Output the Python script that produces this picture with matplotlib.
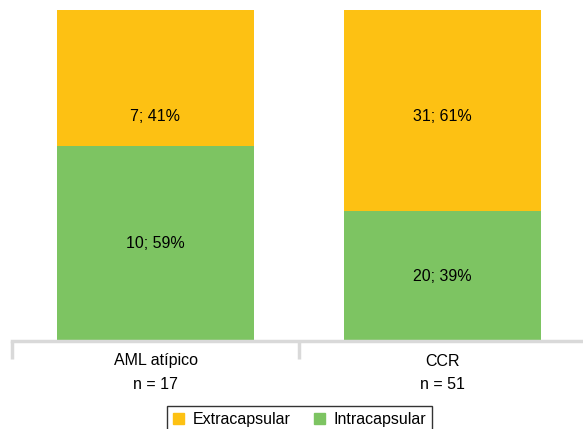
import matplotlib.pyplot as plt
from matplotlib.patches import Patch

categories = ["AML atípico", "CCR"]
n_total = [17, 51]
intra = [10, 20]
extra = [7, 31]
pct_intra = [59, 39]
pct_extra = [41, 61]

yellow = "#FDC113"
green = "#7DC462"
grey = "#d9d9d9"

plt.rcParams['font.family'] = ['Liberation Sans', 'DejaVu Sans']

fig = plt.figure(figsize=(5.83, 4.29), dpi=100)
ax = fig.add_axes([12 / 583, 88 / 429, 574 / 583, 331 / 429])

x = list(range(len(categories)))
f_in = [a / n for a, n in zip(intra, n_total)]
f_ex = [b / n for b, n in zip(extra, n_total)]
ax.bar(x, f_in, width=0.685, color=green)
ax.bar(x, f_ex, bottom=f_in, width=0.685, color=yellow)

# the yellow labels sit at the same height in both bars in the original
for i in x:
    ax.text(i, f_in[i] / 2, f"{intra[i]}; {pct_intra[i]}%", ha="center", va="center", fontsize=11.5)
    ax.text(i, 0.677, f"{extra[i]}; {pct_extra[i]}%", ha="center", va="center", fontsize=11.5)

ax.set_xlim(-0.5, 1.5)
ax.set_ylim(0, 1)
for s in ["top", "right", "left"]:
    ax.spines[s].set_visible(False)
ax.spines["bottom"].set_color(grey)
ax.spines["bottom"].set_linewidth(2.5)
ax.set_yticks([])
ax.set_xticks([-0.5, 0.5, 1.5])
ax.set_xticklabels([])
ax.tick_params(axis="x", which="major", length=13, width=2.5, color=grey)
ax.set_xticks(x, minor=True)
ax.set_xticklabels([f"{c}\nn = {n}" for c, n in zip(categories, n_total)], minor=True,
                   fontsize=11.5, linespacing=1.7)
ax.tick_params(axis="x", which="minor", length=0, pad=9)

handles = [Patch(color=yellow, label="Extracapsular"), Patch(color=green, label="Intracapsular")]
leg = fig.legend(handles=handles, loc="lower center", bbox_to_anchor=(0.514, -0.03), ncol=2,
                 fontsize=11.5, frameon=True, fancybox=False, handlelength=0.7, handleheight=0.7,
                 handletextpad=0.5, columnspacing=1.5, borderpad=0.4)
leg.get_frame().set_edgecolor("black")
leg.get_frame().set_linewidth(1)

plt.savefig("out.png", dpi=100)
